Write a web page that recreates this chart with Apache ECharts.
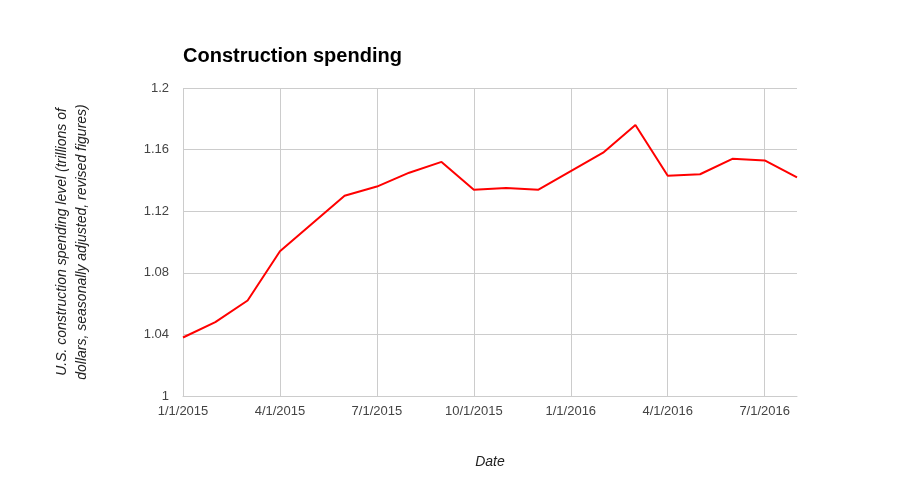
<!DOCTYPE html>
<html>
<head>
<meta charset="utf-8">
<script src="https://cdn.jsdelivr.net/npm/echarts@6/dist/echarts.min.js"></script>
<style>
html,body{margin:0;padding:0;background:#fff;}
#c{width:906px;height:501px;}
</style>
</head>
<body>
<div id="c"></div>
<script>
const titleText = 'Construction spending';
const xAxisTitle = 'Date';
const yAxisTitle = 'U.S. construction spending level (trillions of\ndollars, seasonally adjusted, revised figures)';
const dates = ['1/1/2015','2/1/2015','3/1/2015','4/1/2015','5/1/2015','6/1/2015','7/1/2015','8/1/2015','9/1/2015','10/1/2015','11/1/2015','12/1/2015','1/1/2016','2/1/2016','3/1/2016','4/1/2016','5/1/2016','6/1/2016','7/1/2016','8/1/2016'];
const spending = [1.038,1.048,1.062,1.094,1.112,1.130,1.136,1.145,1.152,1.134,1.135,1.134,1.146,1.158,1.176,1.143,1.144,1.154,1.153,1.142];

const FONT = 'Arial, "Liberation Sans", sans-serif';
const chart = echarts.init(document.getElementById('c'), null, {renderer:'canvas'});
chart.setOption({
  animation: false,
  backgroundColor: '#fff',
  title: {
    text: titleText,
    left: 183,
    top: 46,
    padding: 0,
    textStyle: {fontFamily: FONT, fontSize: 20, fontWeight: 'bold', color: '#000'}
  },
  grid: {left: 183, right: 109, top: 88, bottom: 105, containLabel: false},
  xAxis: {
    type: 'category',
    data: dates,
    boundaryGap: false,
    name: xAxisTitle,
    nameLocation: 'middle',
    nameGap: 59,
    nameTextStyle: {fontFamily: FONT, fontSize: 14, fontStyle: 'italic', color: '#222'},
    axisLine: {show: true, lineStyle: {color: '#ccc', width: 1}},
    axisTick: {show: false},
    axisLabel: {interval: 2, margin: 9, fontFamily: FONT, fontSize: 13, color: '#444'},
    splitLine: {show: true, interval: 2, lineStyle: {color: '#ccc', width: 1}}
  },
  yAxis: {
    type: 'value',
    min: 1,
    max: 1.2,
    interval: 0.04,
    name: yAxisTitle,
    nameLocation: 'middle',
    nameGap: 91,
    nameTextStyle: {fontFamily: FONT, fontSize: 14, fontStyle: 'italic', color: '#222', lineHeight: 20, align: 'center'},
    axisLine: {show: false},
    axisTick: {show: false},
    axisLabel: {margin: 14, fontFamily: FONT, fontSize: 13, color: '#444'},
    splitLine: {show: true, lineStyle: {color: '#ccc', width: 1}}
  },
  series: [{
    type: 'line',
    data: spending,
    symbol: 'none',
    lineStyle: {color: '#ff0000', width: 2},
    itemStyle: {color: '#ff0000'}
  }]
});
</script>
</body>
</html>
